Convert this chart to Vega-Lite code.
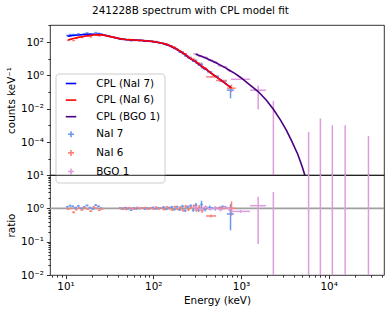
{
  "$schema": "https://vega.github.io/schema/vega-lite/v6.json",
  "padding": {"left": 5, "top": 5, "right": 5, "bottom": 5},
  "title": {"text": "241228B spectrum with CPL model fit", "font": "DejaVu Sans", "fontSize": 10.4, "fontWeight": "normal", "color": "black", "anchor": "middle", "baseline": "alphabetic", "offset": -4, "dx": -5},
  "spacing": 0,
  "bounds": "flush",
  "resolve": {"scale": {"color": "independent", "shape": "independent"}},
  "datasets": {
    "pts": [
      {"d":"NaI 7","e":10.5,"e0":10.15,"e1":10.85,"c":251,"c0":236,"c1":266,"r":1.12,"r0":1.05,"r1":1.19},
      {"d":"NaI 7","e":11.3,"e0":10.9,"e1":11.7,"c":281,"c0":264,"c1":298,"r":1.2,"r0":1.13,"r1":1.27},
      {"d":"NaI 7","e":12.1,"e0":11.7,"e1":12.5,"c":282,"c0":265,"c1":299,"r":1.15,"r0":1.08,"r1":1.22},
      {"d":"NaI 7","e":13.0,"e0":12.5,"e1":13.5,"c":270,"c0":254,"c1":286,"r":1.05,"r0":0.99,"r1":1.11},
      {"d":"NaI 7","e":14.0,"e0":13.5,"e1":14.5,"c":310,"c0":291,"c1":329,"r":1.18,"r0":1.11,"r1":1.25},
      {"d":"NaI 7","e":15.1,"e0":14.5,"e1":15.7,"c":275,"c0":259,"c1":292,"r":1.0,"r0":0.94,"r1":1.06},
      {"d":"NaI 7","e":16.3,"e0":15.7,"e1":16.9,"c":310,"c0":291,"c1":329,"r":1.1,"r0":1.03,"r1":1.17},
      {"d":"NaI 7","e":17.6,"e0":16.9,"e1":18.3,"c":351,"c0":330,"c1":372,"r":1.22,"r0":1.15,"r1":1.29},
      {"d":"NaI 7","e":19.0,"e0":18.3,"e1":19.7,"c":310,"c0":291,"c1":329,"r":1.05,"r0":0.99,"r1":1.11},
      {"d":"NaI 7","e":20.5,"e0":19.7,"e1":21.3,"c":280,"c0":263,"c1":297,"r":0.95,"r0":0.89,"r1":1.01},
      {"d":"NaI 7","e":22.1,"e0":21.3,"e1":22.9,"c":369,"c0":347,"c1":391,"r":1.25,"r0":1.18,"r1":1.33},
      {"d":"NaI 7","e":23.8,"e0":22.9,"e1":24.7,"c":331,"c0":311,"c1":351,"r":1.15,"r0":1.08,"r1":1.22},
      {"d":"NaI 7","e":25.6,"e0":24.7,"e1":26.5,"c":288,"c0":271,"c1":305,"r":1.0,"r0":0.94,"r1":1.06},
      {"d":"NaI 7","e":42,"e0":40.6,"e1":43.5,"c":158,"c0":150,"c1":166,"r":1.02,"r0":0.97,"r1":1.07},
      {"d":"NaI 7","e":45,"e0":43.5,"e1":46.7,"c":141,"c0":134,"c1":148,"r":0.95,"r0":0.9,"r1":1.0},
      {"d":"NaI 7","e":48.5,"e0":46.7,"e1":50.2,"c":148,"c0":141,"c1":155,"r":1.05,"r0":1.0,"r1":1.1},
      {"d":"NaI 7","e":52,"e0":50.2,"e1":54,"c":135,"c0":128,"c1":142,"r":0.98,"r0":0.93,"r1":1.03},
      {"d":"NaI 7","e":56,"e0":54,"e1":58,"c":119,"c0":113,"c1":125,"r":0.88,"r0":0.84,"r1":0.92},
      {"d":"NaI 7","e":60,"e0":58,"e1":62.2,"c":136,"c0":129,"c1":143,"r":1.03,"r0":0.98,"r1":1.08},
      {"d":"NaI 7","e":64.5,"e0":62.2,"e1":66.7,"c":125,"c0":119,"c1":131,"r":0.97,"r0":0.92,"r1":1.02},
      {"d":"NaI 7","e":69,"e0":66.7,"e1":71.5,"c":126,"c0":120,"c1":132,"r":1.0,"r0":0.95,"r1":1.05},
      {"d":"NaI 7","e":74,"e0":71.5,"e1":77,"c":128,"c0":122,"c1":134,"r":1.04,"r0":0.99,"r1":1.09},
      {"d":"NaI 7","e":80,"e0":77,"e1":83,"c":112,"c0":106,"c1":118,"r":0.96,"r0":0.91,"r1":1.01},
      {"d":"NaI 7","e":86,"e0":83,"e1":89,"c":117,"c0":111,"c1":123,"r":1.02,"r0":0.97,"r1":1.07},
      {"d":"NaI 7","e":92,"e0":89,"e1":95.5,"c":109,"c0":104,"c1":114,"r":0.99,"r0":0.94,"r1":1.04},
      {"d":"NaI 7","e":99,"e0":95.5,"e1":102.5,"c":111,"c0":105,"c1":117,"r":1.06,"r0":1.01,"r1":1.11},
      {"d":"NaI 7","e":106,"e0":102.5,"e1":110,"c":97,"c0":92,"c1":102,"r":0.97,"r0":0.92,"r1":1.02},
      {"d":"NaI 7","e":114,"e0":110,"e1":118,"c":96,"c0":91,"c1":101,"r":1.03,"r0":0.98,"r1":1.08},
      {"d":"NaI 7","e":122,"e0":118,"e1":126.5,"c":87,"c0":83,"c1":91,"r":1.0,"r0":0.95,"r1":1.05},
      {"d":"NaI 7","e":131,"e0":126.5,"e1":136,"c":85,"c0":79,"c1":91,"r":1.08,"r0":1.0,"r1":1.16},
      {"d":"NaI 7","e":141,"e0":136,"e1":146,"c":67,"c0":62,"c1":72,"r":0.95,"r0":0.88,"r1":1.02},
      {"d":"NaI 7","e":151,"e0":146,"e1":156.5,"c":65,"c0":60,"c1":70,"r":1.05,"r0":0.98,"r1":1.12},
      {"d":"NaI 7","e":162,"e0":156.5,"e1":168,"c":57,"c0":53,"c1":61,"r":1.1,"r0":1.02,"r1":1.18},
      {"d":"NaI 7","e":174,"e0":168,"e1":180.5,"c":40.5,"c0":37.7,"c1":43.3,"r":0.92,"r0":0.86,"r1":0.98},
      {"d":"NaI 7","e":187,"e0":180.5,"e1":193.5,"c":39.2,"c0":36.5,"c1":41.9,"r":1.12,"r0":1.04,"r1":1.2},
      {"d":"NaI 7","e":200,"e0":193.5,"e1":207.5,"c":25.2,"c0":23.4,"c1":27,"r":0.9,"r0":0.84,"r1":0.96},
      {"d":"NaI 7","e":215,"e0":207.5,"e1":223,"c":25.8,"c0":23.2,"c1":28.4,"r":1.15,"r0":1.04,"r1":1.27},
      {"d":"NaI 7","e":231,"e0":223,"e1":239.5,"c":14.8,"c0":13.3,"c1":16.3,"r":0.85,"r0":0.77,"r1":0.94},
      {"d":"NaI 7","e":248,"e0":239.5,"e1":257,"c":13.9,"c0":12.5,"c1":15.3,"r":1.1,"r0":0.99,"r1":1.21},
      {"d":"NaI 7","e":266,"e0":257,"e1":276,"c":11.8,"c0":10.6,"c1":13,"r":1.2,"r0":1.08,"r1":1.32},
      {"d":"NaI 7","e":286,"e0":276,"e1":296,"c":7,"c0":6.3,"c1":7.7,"r":0.88,"r0":0.79,"r1":0.97},
      {"d":"NaI 7","e":307,"e0":296,"e1":318,"c":7.75,"c0":6.6,"c1":8.9,"r":1.25,"r0":1.06,"r1":1.44},
      {"d":"NaI 7","e":330,"e0":318,"e1":342,"c":4.3,"c0":3.7,"c1":4.9,"r":0.92,"r0":0.78,"r1":1.06},
      {"d":"NaI 7","e":355,"e0":342,"e1":370,"c":4.55,"c0":3.4,"c1":5.9,"r":1.3,"r0":0.98,"r1":1.69},
      {"d":"NaI 7","e":390,"e0":370,"e1":410,"c":2.4,"c0":2.0,"c1":2.8,"r":0.95,"r0":0.81,"r1":1.09},
      {"d":"NaI 7","e":440,"e0":410,"e1":470,"c":1.63,"c0":1.39,"c1":1.87,"r":1.05,"r0":0.89,"r1":1.21},
      {"d":"NaI 7","e":510,"e0":470,"e1":560,"c":0.89,"c0":0.76,"c1":1.02,"r":1.0,"r0":0.85,"r1":1.15},
      {"d":"NaI 7","e":620,"e0":560,"e1":690,"c":0.46,"c0":0.39,"c1":0.53,"r":1.08,"r0":0.92,"r1":1.24},
      {"d":"NaI 7","e":760,"e0":690,"e1":830,"c":0.13,"c0":0.042,"c1":0.25,"r":0.68,"r0":0.22,"r1":1.35},
      {"d":"NaI 6","e":10.7,"e0":10.35,"e1":11.05,"c":125,"c0":118,"c1":133,"r":0.95,"r0":0.89,"r1":1.01},
      {"d":"NaI 6","e":11.5,"e0":11.1,"e1":11.9,"c":148,"c0":139,"c1":157,"r":1.0,"r0":0.94,"r1":1.06},
      {"d":"NaI 6","e":12.35,"e0":11.9,"e1":12.8,"c":123,"c0":116,"c1":130,"r":0.76,"r0":0.71,"r1":0.81},
      {"d":"NaI 6","e":13.25,"e0":12.8,"e1":13.7,"c":164,"c0":154,"c1":174,"r":0.92,"r0":0.86,"r1":0.98},
      {"d":"NaI 6","e":14.3,"e0":13.8,"e1":14.8,"c":199,"c0":187,"c1":211,"r":1.02,"r0":0.96,"r1":1.08},
      {"d":"NaI 6","e":15.4,"e0":14.8,"e1":16,"c":188,"c0":177,"c1":199,"r":0.9,"r0":0.85,"r1":0.95},
      {"d":"NaI 6","e":16.6,"e0":16,"e1":17.2,"c":235,"c0":221,"c1":249,"r":1.05,"r0":0.99,"r1":1.11},
      {"d":"NaI 6","e":17.95,"e0":17.3,"e1":18.6,"c":228,"c0":214,"c1":242,"r":0.95,"r0":0.89,"r1":1.01},
      {"d":"NaI 6","e":19.4,"e0":18.7,"e1":20.1,"c":206,"c0":194,"c1":218,"r":0.82,"r0":0.77,"r1":0.87},
      {"d":"NaI 6","e":20.9,"e0":20.2,"e1":21.6,"c":289,"c0":272,"c1":306,"r":1.1,"r0":1.03,"r1":1.17},
      {"d":"NaI 6","e":22.5,"e0":21.7,"e1":23.3,"c":269,"c0":253,"c1":285,"r":1.0,"r0":0.94,"r1":1.06},
      {"d":"NaI 6","e":24.3,"e0":23.4,"e1":25.2,"c":237,"c0":223,"c1":251,"r":0.88,"r0":0.83,"r1":0.93},
      {"d":"NaI 6","e":26.1,"e0":25.2,"e1":27,"c":261,"c0":245,"c1":277,"r":0.97,"r0":0.91,"r1":1.03},
      {"d":"NaI 6","e":42.6,"e0":41.2,"e1":44,"c":152,"c0":144,"c1":160,"r":0.98,"r0":0.93,"r1":1.03},
      {"d":"NaI 6","e":45.7,"e0":44,"e1":47.4,"c":154,"c0":146,"c1":162,"r":1.04,"r0":0.99,"r1":1.09},
      {"d":"NaI 6","e":49.2,"e0":47.4,"e1":51,"c":131,"c0":124,"c1":138,"r":0.93,"r0":0.88,"r1":0.98},
      {"d":"NaI 6","e":52.8,"e0":51,"e1":54.7,"c":145,"c0":138,"c1":152,"r":1.05,"r0":1.0,"r1":1.1},
      {"d":"NaI 6","e":56.8,"e0":54.7,"e1":58.8,"c":135,"c0":128,"c1":142,"r":1.0,"r0":0.95,"r1":1.05},
      {"d":"NaI 6","e":60.9,"e0":58.8,"e1":63.1,"c":124,"c0":118,"c1":130,"r":0.94,"r0":0.89,"r1":0.99},
      {"d":"NaI 6","e":65.5,"e0":63.1,"e1":67.8,"c":137,"c0":130,"c1":144,"r":1.06,"r0":1.01,"r1":1.11},
      {"d":"NaI 6","e":70,"e0":67.8,"e1":72.5,"c":123,"c0":117,"c1":129,"r":0.98,"r0":0.93,"r1":1.03},
      {"d":"NaI 6","e":75,"e0":72.5,"e1":78,"c":125,"c0":119,"c1":131,"r":1.02,"r0":0.97,"r1":1.07},
      {"d":"NaI 6","e":81.2,"e0":78,"e1":84.2,"c":123,"c0":117,"c1":129,"r":1.05,"r0":1.0,"r1":1.1},
      {"d":"NaI 6","e":87.3,"e0":84.2,"e1":90.5,"c":109,"c0":104,"c1":114,"r":0.95,"r0":0.9,"r1":1.0},
      {"d":"NaI 6","e":93.4,"e0":90.5,"e1":97,"c":113,"c0":107,"c1":119,"r":1.03,"r0":0.98,"r1":1.08},
      {"d":"NaI 6","e":100.5,"e0":97,"e1":104,"c":102,"c0":97,"c1":107,"r":0.97,"r0":0.92,"r1":1.02},
      {"d":"NaI 6","e":107.6,"e0":104,"e1":111.5,"c":108,"c0":103,"c1":113,"r":1.08,"r0":1.03,"r1":1.13},
      {"d":"NaI 6","e":115.7,"e0":111.5,"e1":120,"c":89,"c0":85,"c1":93,"r":0.96,"r0":0.91,"r1":1.01},
      {"d":"NaI 6","e":123.8,"e0":120,"e1":128,"c":90,"c0":86,"c1":95,"r":1.04,"r0":0.99,"r1":1.09},
      {"d":"NaI 6","e":133,"e0":128,"e1":138,"c":73,"c0":68,"c1":78,"r":0.93,"r0":0.86,"r1":1.0},
      {"d":"NaI 6","e":143,"e0":138,"e1":148,"c":78,"c0":73,"c1":83,"r":1.1,"r0":1.02,"r1":1.18},
      {"d":"NaI 6","e":153,"e0":148,"e1":158.5,"c":61,"c0":57,"c1":65,"r":0.98,"r0":0.91,"r1":1.05},
      {"d":"NaI 6","e":164.4,"e0":158.5,"e1":170,"c":47,"c0":44,"c1":50,"r":0.9,"r0":0.84,"r1":0.96},
      {"d":"NaI 6","e":176.6,"e0":170,"e1":183,"c":49,"c0":46,"c1":52,"r":1.12,"r0":1.04,"r1":1.2},
      {"d":"NaI 6","e":190,"e0":183,"e1":197,"c":33,"c0":31,"c1":35,"r":0.95,"r0":0.88,"r1":1.02},
      {"d":"NaI 6","e":203,"e0":197,"e1":210,"c":30,"c0":28,"c1":32,"r":1.08,"r0":1.0,"r1":1.16},
      {"d":"NaI 6","e":218,"e0":210,"e1":226,"c":19.7,"c0":17.7,"c1":21.7,"r":0.88,"r0":0.79,"r1":0.97},
      {"d":"NaI 6","e":234.5,"e0":226,"e1":243,"c":20,"c0":18,"c1":22,"r":1.15,"r0":1.04,"r1":1.27},
      {"d":"NaI 6","e":251.7,"e0":243,"e1":261,"c":11.6,"c0":10.4,"c1":12.8,"r":0.92,"r0":0.83,"r1":1.01},
      {"d":"NaI 6","e":270,"e0":261,"e1":280,"c":10.3,"c0":9.3,"c1":11.3,"r":1.05,"r0":0.95,"r1":1.16},
      {"d":"NaI 6","e":290,"e0":280,"e1":301,"c":9.3,"c0":8.4,"c1":10.2,"r":1.18,"r0":1.06,"r1":1.3},
      {"d":"NaI 6","e":311.6,"e0":301,"e1":323,"c":5.6,"c0":4.8,"c1":6.4,"r":0.9,"r0":0.77,"r1":1.04},
      {"d":"NaI 6","e":335,"e0":323,"e1":347,"c":5.2,"c0":4.4,"c1":6.0,"r":1.1,"r0":0.94,"r1":1.27},
      {"d":"NaI 6","e":360,"e0":347,"e1":375,"c":3.0,"c0":2.5,"c1":3.5,"r":0.85,"r0":0.72,"r1":0.98},
      {"d":"NaI 6","e":395,"e0":375,"e1":415,"c":2.6,"c0":2.2,"c1":3.0,"r":1.05,"r0":0.89,"r1":1.21},
      {"d":"NaI 6","e":455,"e0":400,"e1":520,"c":0.81,"c0":0.73,"c1":0.89,"r":0.59,"r0":0.53,"r1":0.65},
      {"d":"NaI 6","e":600,"e0":520,"e1":690,"c":0.49,"c0":0.42,"c1":0.56,"r":1.02,"r0":0.87,"r1":1.17},
      {"d":"NaI 6","e":780,"e0":690,"e1":870,"c":0.17,"c0":0.1,"c1":0.28,"r":1.0,"r0":0.6,"r1":1.62},
      {"d":"BGO 1","e":305,"e0":285,"e1":325,"c":19.5,"c0":17.6,"c1":21.5,"r":1.05,"r0":0.95,"r1":1.16},
      {"d":"BGO 1","e":347,"e0":325,"e1":370,"c":13.8,"c0":12.4,"c1":15.2,"r":0.95,"r0":0.86,"r1":1.05},
      {"d":"BGO 1","e":395,"e0":370,"e1":420,"c":11.9,"c0":10.7,"c1":13.1,"r":1.08,"r0":0.97,"r1":1.19},
      {"d":"BGO 1","e":450,"e0":420,"e1":480,"c":7.9,"c0":7.0,"c1":8.8,"r":0.97,"r0":0.86,"r1":1.08},
      {"d":"BGO 1","e":512,"e0":480,"e1":545,"c":6.0,"c0":5.3,"c1":6.7,"r":1.02,"r0":0.9,"r1":1.14},
      {"d":"BGO 1","e":582,"e0":545,"e1":620,"c":3.8,"c0":3.3,"c1":4.3,"r":0.93,"r0":0.81,"r1":1.05},
      {"d":"BGO 1","e":660,"e0":620,"e1":700,"c":3.1,"c0":2.7,"c1":3.5,"r":1.06,"r0":0.93,"r1":1.2},
      {"d":"BGO 1","e":735,"e0":700,"e1":770,"c":1.98,"c0":1.7,"c1":2.26,"r":0.97,"r0":0.83,"r1":1.11},
      {"d":"BGO 1","e":990,"e0":770,"e1":1270,"c":0.58,"c0":0.52,"c1":0.64,"r":0.81,"r0":0.73,"r1":0.89},
      {"d":"BGO 1","e":1570,"e0":1270,"e1":1930,"c":0.128,"c0":0.009,"c1":0.24,"r":1.2,"r0":0.085,"r1":2.24},
      {"d":"BGO 1","e":2340,"e0":2340,"e1":2340,"c":null,"c0":1e-12,"c1":0.029,"r":null,"r0":1e-12,"r1":3.1},
      {"d":"BGO 1","e":5900,"e0":5900,"e1":5900,"c":null,"c0":1e-12,"c1":0.0004,"r":null,"r0":1e-12,"r1":10000},
      {"d":"BGO 1","e":8040,"e0":8040,"e1":8040,"c":null,"c0":1e-12,"c1":0.0026,"r":null,"r0":1e-12,"r1":10000},
      {"d":"BGO 1","e":11000,"e0":11000,"e1":11000,"c":null,"c0":1e-12,"c1":0.001,"r":null,"r0":1e-12,"r1":10000},
      {"d":"BGO 1","e":15400,"e0":15400,"e1":15400,"c":null,"c0":1e-12,"c1":0.001,"r":null,"r0":1e-12,"r1":10000},
      {"d":"BGO 1","e":28400,"e0":28400,"e1":28400,"c":null,"c0":1e-12,"c1":0.00023,"r":null,"r0":1e-12,"r1":10000}
    ],
    "mod": [
      {"s":"CPL (NaI 7)","e":10.5,"m":224},{"s":"CPL (NaI 7)","e":11.3,"m":234},{"s":"CPL (NaI 7)","e":12.1,"m":245},{"s":"CPL (NaI 7)","e":13,"m":257},{"s":"CPL (NaI 7)","e":14,"m":263},{"s":"CPL (NaI 7)","e":15.1,"m":275},{"s":"CPL (NaI 7)","e":16.3,"m":282},{"s":"CPL (NaI 7)","e":17.6,"m":288},{"s":"CPL (NaI 7)","e":19,"m":295},{"s":"CPL (NaI 7)","e":20.5,"m":295},{"s":"CPL (NaI 7)","e":22.1,"m":295},{"s":"CPL (NaI 7)","e":23.8,"m":288},{"s":"CPL (NaI 7)","e":25.6,"m":288},
      {"s":"CPL (NaI 7)","e":42,"m":155},{"s":"CPL (NaI 7)","e":45,"m":148},{"s":"CPL (NaI 7)","e":48.5,"m":141},{"s":"CPL (NaI 7)","e":52,"m":138},{"s":"CPL (NaI 7)","e":56,"m":135},{"s":"CPL (NaI 7)","e":60,"m":132},{"s":"CPL (NaI 7)","e":64.5,"m":129},{"s":"CPL (NaI 7)","e":69,"m":126},{"s":"CPL (NaI 7)","e":74,"m":123},{"s":"CPL (NaI 7)","e":80,"m":117},{"s":"CPL (NaI 7)","e":86,"m":115},{"s":"CPL (NaI 7)","e":92,"m":110},{"s":"CPL (NaI 7)","e":99,"m":105},{"s":"CPL (NaI 7)","e":106,"m":100},{"s":"CPL (NaI 7)","e":114,"m":93},{"s":"CPL (NaI 7)","e":122,"m":87},{"s":"CPL (NaI 7)","e":131,"m":79},{"s":"CPL (NaI 7)","e":141,"m":71},{"s":"CPL (NaI 7)","e":151,"m":62},{"s":"CPL (NaI 7)","e":162,"m":52},{"s":"CPL (NaI 7)","e":174,"m":44},{"s":"CPL (NaI 7)","e":187,"m":35},{"s":"CPL (NaI 7)","e":200,"m":28},{"s":"CPL (NaI 7)","e":215,"m":22.4},{"s":"CPL (NaI 7)","e":231,"m":17.4},{"s":"CPL (NaI 7)","e":248,"m":12.6},{"s":"CPL (NaI 7)","e":266,"m":9.8},{"s":"CPL (NaI 7)","e":286,"m":7.9},{"s":"CPL (NaI 7)","e":307,"m":6.2},{"s":"CPL (NaI 7)","e":330,"m":4.7},{"s":"CPL (NaI 7)","e":355,"m":3.5},{"s":"CPL (NaI 7)","e":390,"m":2.5},{"s":"CPL (NaI 7)","e":440,"m":1.55},{"s":"CPL (NaI 7)","e":510,"m":0.89},{"s":"CPL (NaI 7)","e":620,"m":0.43},{"s":"CPL (NaI 7)","e":760,"m":0.19},
      {"s":"CPL (NaI 6)","e":10.7,"m":132},{"s":"CPL (NaI 6)","e":11.5,"m":148},{"s":"CPL (NaI 6)","e":12.35,"m":162},{"s":"CPL (NaI 6)","e":13.25,"m":178},{"s":"CPL (NaI 6)","e":14.3,"m":195},{"s":"CPL (NaI 6)","e":15.4,"m":209},{"s":"CPL (NaI 6)","e":16.6,"m":224},{"s":"CPL (NaI 6)","e":17.95,"m":240},{"s":"CPL (NaI 6)","e":19.4,"m":251},{"s":"CPL (NaI 6)","e":20.9,"m":263},{"s":"CPL (NaI 6)","e":22.5,"m":269},{"s":"CPL (NaI 6)","e":24.3,"m":269},{"s":"CPL (NaI 6)","e":26.1,"m":269},
      {"s":"CPL (NaI 6)","e":42.6,"m":155},{"s":"CPL (NaI 6)","e":45.7,"m":148},{"s":"CPL (NaI 6)","e":49.2,"m":141},{"s":"CPL (NaI 6)","e":52.8,"m":138},{"s":"CPL (NaI 6)","e":56.8,"m":135},{"s":"CPL (NaI 6)","e":60.9,"m":132},{"s":"CPL (NaI 6)","e":65.5,"m":129},{"s":"CPL (NaI 6)","e":70,"m":126},{"s":"CPL (NaI 6)","e":75,"m":123},{"s":"CPL (NaI 6)","e":81.2,"m":117},{"s":"CPL (NaI 6)","e":87.3,"m":115},{"s":"CPL (NaI 6)","e":93.4,"m":110},{"s":"CPL (NaI 6)","e":100.5,"m":105},{"s":"CPL (NaI 6)","e":107.6,"m":100},{"s":"CPL (NaI 6)","e":115.7,"m":93},{"s":"CPL (NaI 6)","e":123.8,"m":87},{"s":"CPL (NaI 6)","e":133,"m":79},{"s":"CPL (NaI 6)","e":143,"m":71},{"s":"CPL (NaI 6)","e":153,"m":62},{"s":"CPL (NaI 6)","e":164.4,"m":52},{"s":"CPL (NaI 6)","e":176.6,"m":44},{"s":"CPL (NaI 6)","e":190,"m":35},{"s":"CPL (NaI 6)","e":203,"m":28},{"s":"CPL (NaI 6)","e":218,"m":22.4},{"s":"CPL (NaI 6)","e":234.5,"m":17.4},{"s":"CPL (NaI 6)","e":251.7,"m":12.6},{"s":"CPL (NaI 6)","e":270,"m":9.8},{"s":"CPL (NaI 6)","e":290,"m":7.9},{"s":"CPL (NaI 6)","e":311.6,"m":6.2},{"s":"CPL (NaI 6)","e":335,"m":4.7},{"s":"CPL (NaI 6)","e":360,"m":3.5},{"s":"CPL (NaI 6)","e":395,"m":2.5},{"s":"CPL (NaI 6)","e":455,"m":1.38},{"s":"CPL (NaI 6)","e":600,"m":0.48},{"s":"CPL (NaI 6)","e":780,"m":0.17},
      {"s":"CPL (BGO 1)","e":305,"m":18.6},{"s":"CPL (BGO 1)","e":347,"m":14.5},{"s":"CPL (BGO 1)","e":395,"m":11.0},{"s":"CPL (BGO 1)","e":450,"m":8.1},{"s":"CPL (BGO 1)","e":512,"m":5.9},{"s":"CPL (BGO 1)","e":582,"m":4.1},{"s":"CPL (BGO 1)","e":660,"m":2.9},{"s":"CPL (BGO 1)","e":735,"m":2.04},{"s":"CPL (BGO 1)","e":850,"m":1.32},{"s":"CPL (BGO 1)","e":1000,"m":0.72},{"s":"CPL (BGO 1)","e":1250,"m":0.28},{"s":"CPL (BGO 1)","e":1570,"m":0.107},{"s":"CPL (BGO 1)","e":1950,"m":0.032},{"s":"CPL (BGO 1)","e":2340,"m":0.0093},{"s":"CPL (BGO 1)","e":2800,"m":0.0022},{"s":"CPL (BGO 1)","e":3300,"m":0.0005},{"s":"CPL (BGO 1)","e":3800,"m":0.00011},{"s":"CPL (BGO 1)","e":4450,"m":0.000018},{"s":"CPL (BGO 1)","e":5000,"m":0.0000032},{"s":"CPL (BGO 1)","e":5500,"m":0.00000063},{"s":"CPL (BGO 1)","e":6000,"m":0.00000013}
    ],
    "leg": [
      {"s":"CPL (NaI 7)","e":null,"c":null},{"s":"CPL (NaI 6)","e":null,"c":null},{"s":"CPL (BGO 1)","e":null,"c":null},
      {"s":"NaI 7","e":null,"c":null},{"s":"NaI 6","e":null,"c":null},{"s":"BGO 1","e":null,"c":null}
    ]
  },
  "vconcat": [
    {
      "width": 334,
      "height": 150,
      "layer": [
        {
          "data": {"name": "pts"},
          "mark": {"type": "rule", "clip": true, "strokeWidth": 1.5},
          "encoding": {
            "x": {"field": "e", "type": "quantitative", "scale": {"type": "log", "domain": [6.65, 42700], "nice": false}, "axis": null},
            "y": {"field": "c0", "type": "quantitative", "scale": {"type": "log", "domain": [1.05e-6, 1050], "nice": false},
              "axis": {"title": "counts keV⁻¹", "titleX": -39, "titleY": 75, "titleBaseline": "middle", "titleAngle": 270, "titleAlign": "center",
                "values": [0.00001, 0.0001, 0.001, 0.01, 0.1, 1, 10, 100, 1000],
                "labelExpr": "datum.value == 100 ? '10²' : datum.value == 1 ? '10⁰' : datum.value == 0.01 ? '10⁻²' : datum.value == 0.0001 ? '10⁻⁴' : ''",
                "tickSize": {"condition": {"test": "datum.value == 100 || datum.value == 1 || datum.value == 0.01 || datum.value == 0.0001", "value": 3.6}, "value": 2.1},
                "minExtent": 30, "maxExtent": 30}},
            "y2": {"field": "c1"},
            "color": {"field": "d", "type": "nominal", "scale": {"domain": ["CPL (NaI 7)", "CPL (NaI 6)", "CPL (BGO 1)", "NaI 7", "NaI 6", "BGO 1"], "range": ["#0000ff", "#ff0000", "#4b0082", "#6d98f0", "#f8837a", "#dd9ddd"]}}
          }
        },
        {
          "data": {"name": "pts"},
          "transform": [{"filter": "isValid(datum.c)"}],
          "mark": {"type": "rule", "clip": true, "strokeWidth": 1.5},
          "encoding": {
            "x": {"field": "e0", "type": "quantitative"},
            "x2": {"field": "e1"},
            "y": {"field": "c", "type": "quantitative"},
            "color": {"field": "d", "type": "nominal"}
          }
        },
        {
          "data": {"name": "mod"},
          "transform": [{"filter": "datum.s == 'CPL (NaI 7)'"}],
          "mark": {"type": "line", "clip": true, "strokeWidth": 1.6, "color": "#0000ff"},
          "encoding": {"x": {"field": "e", "type": "quantitative"}, "y": {"field": "m", "type": "quantitative"}}
        },
        {
          "data": {"name": "mod"},
          "transform": [{"filter": "datum.s == 'CPL (NaI 6)'"}],
          "mark": {"type": "line", "clip": true, "strokeWidth": 1.6, "color": "#ff0000"},
          "encoding": {"x": {"field": "e", "type": "quantitative"}, "y": {"field": "m", "type": "quantitative"}}
        },
        {
          "data": {"name": "mod"},
          "transform": [{"filter": "datum.s == 'CPL (BGO 1)'"}],
          "mark": {"type": "line", "clip": true, "strokeWidth": 1.6, "color": "#4b0082"},
          "encoding": {"x": {"field": "e", "type": "quantitative"}, "y": {"field": "m", "type": "quantitative"}}
        },
        {
          "data": {"name": "leg"},
          "mark": {"type": "point", "filled": false, "invalid": "filter", "clip": true},
          "encoding": {
            "x": {"field": "e", "type": "quantitative"},
            "y": {"field": "c", "type": "quantitative"},
            "opacity": {"value": 0},
            "color": {"field": "s", "type": "nominal",
              "legend": {"title": null, "orient": "none", "legendX": 5.5, "legendY": 48.5, "symbolOpacity": 1}},
            "shape": {"field": "s", "type": "nominal",
              "scale": {"domain": ["CPL (NaI 7)", "CPL (NaI 6)", "CPL (BGO 1)", "NaI 7", "NaI 6", "BGO 1"],
                "range": ["M-1.05,0H1.05", "M-1.05,0H1.05", "M-1.05,0H1.05", "M-0.6,0H0.6M0,-0.6V0.6", "M-0.6,0H0.6M0,-0.6V0.6", "M-0.6,0H0.6M0,-0.6V0.6"]},
              "legend": {"title": null, "orient": "none", "legendX": 5.5, "legendY": 48.5, "symbolOpacity": 1}}
          }
        }
      ]
    },
    {
      "width": 334,
      "height": 100,
      "layer": [
        {
          "data": {"values": [{}]},
          "mark": {"type": "rule", "color": "#a0a0a0", "strokeWidth": 1.8},
          "encoding": {"y": {"datum": 1, "type": "quantitative"}}
        },
        {
          "data": {"name": "pts"},
          "mark": {"type": "rule", "clip": true, "strokeWidth": 1.5},
          "encoding": {
            "x": {"field": "e", "type": "quantitative", "scale": {"type": "log", "domain": [6.65, 42700], "nice": false},
              "axis": {"title": "Energy (keV)", "titlePadding": 3,
                "values": [7, 8, 9, 10, 20, 30, 40, 50, 60, 70, 80, 90, 100, 200, 300, 400, 500, 600, 700, 800, 900, 1000, 2000, 3000, 4000, 5000, 6000, 7000, 8000, 9000, 10000, 20000, 30000, 40000],
                "labelExpr": "datum.value == 10 ? '10¹' : datum.value == 100 ? '10²' : datum.value == 1000 ? '10³' : datum.value == 10000 ? '10⁴' : ''",
                "tickSize": {"condition": {"test": "datum.value == 10 || datum.value == 100 || datum.value == 1000 || datum.value == 10000", "value": 3.6}, "value": 2.1}}},
            "y": {"field": "r0", "type": "quantitative", "scale": {"type": "log", "domain": [0.01, 10], "nice": false},
              "axis": {"title": "ratio", "titleX": -39, "titleY": 50, "titleBaseline": "middle", "titleAngle": 270, "titleAlign": "center",
                "values": [0.01, 0.02, 0.03, 0.04, 0.05, 0.06, 0.07, 0.08, 0.09, 0.1, 0.2, 0.3, 0.4, 0.5, 0.6, 0.7, 0.8, 0.9, 1, 2, 3, 4, 5, 6, 7, 8, 9, 10],
                "labelExpr": "datum.value == 10 ? '10¹' : datum.value == 1 ? '10⁰' : datum.value == 0.1 ? '10⁻¹' : datum.value == 0.01 ? '10⁻²' : ''",
                "tickSize": {"condition": {"test": "datum.value == 10 || datum.value == 1 || datum.value == 0.1 || datum.value == 0.01", "value": 3.6}, "value": 2.1},
                "minExtent": 30, "maxExtent": 30}},
            "y2": {"field": "r1"},
            "color": {"field": "d", "type": "nominal", "scale": {"domain": ["CPL (NaI 7)", "CPL (NaI 6)", "CPL (BGO 1)", "NaI 7", "NaI 6", "BGO 1"], "range": ["#0000ff", "#ff0000", "#4b0082", "#6d98f0", "#f8837a", "#dd9ddd"]}, "legend": null}
          }
        },
        {
          "data": {"name": "pts"},
          "transform": [{"filter": "isValid(datum.r)"}],
          "mark": {"type": "rule", "clip": true, "strokeWidth": 1.5},
          "encoding": {
            "x": {"field": "e0", "type": "quantitative"},
            "x2": {"field": "e1"},
            "y": {"field": "r", "type": "quantitative"},
            "color": {"field": "d", "type": "nominal", "legend": null}
          }
        }
      ]
    }
  ],
  "config": {
    "font": "DejaVu Sans",
    "view": {"stroke": "black", "strokeWidth": 0.8},
    "axis": {"labelFont": "DejaVu Sans", "labelFontSize": 10.4, "labelColor": "black", "titleFont": "DejaVu Sans", "titleFontSize": 10.4, "titleFontWeight": "normal", "titleColor": "black", "tickColor": "black", "tickWidth": 0.8, "domain": false, "grid": false, "labelPadding": 3, "labelFlush": false, "labelOverlap": false},
    "legend": {"labelFont": "DejaVu Sans", "labelFontSize": 10.4, "labelColor": "black", "fillColor": "rgba(255,255,255,0.8)", "strokeColor": "#cccccc", "cornerRadius": 3, "padding": 4, "symbolSize": 100, "symbolStrokeWidth": 1.6, "symbolOffset": 5.5, "rowPadding": 4.6, "labelOffset": 19.3, "gridAlign": "each"}
  }
}
